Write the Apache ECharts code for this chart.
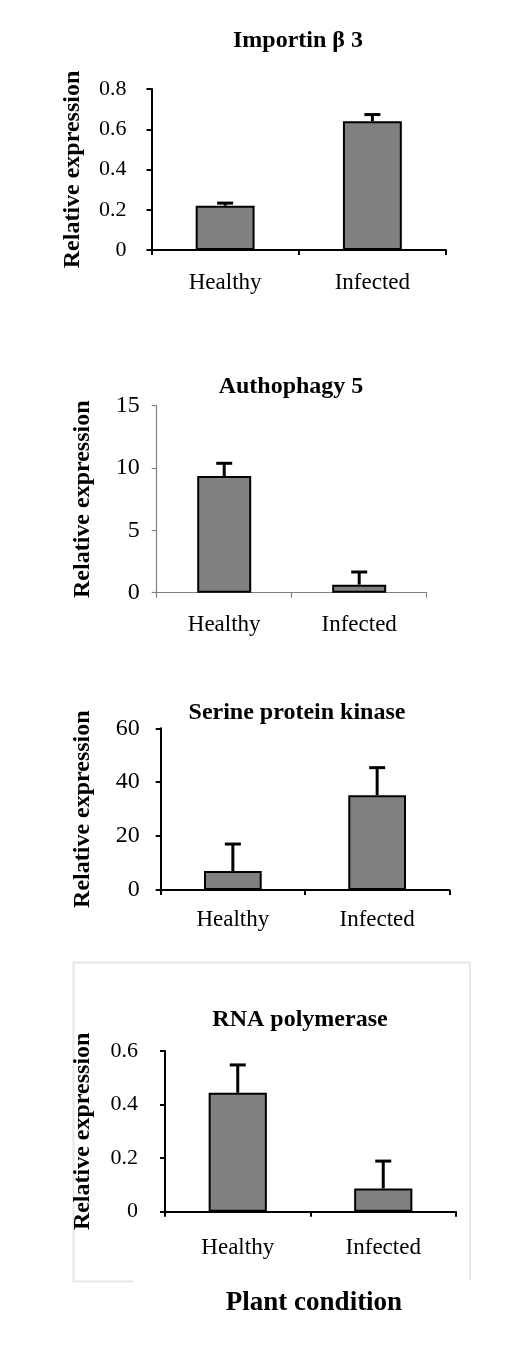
<!DOCTYPE html>
<html>
<head>
<meta charset="utf-8">
<script src="https://cdn.jsdelivr.net/npm/echarts@6/dist/echarts.min.js"></script>
<style>
html,body{margin:0;padding:0;background:#fff;}
#chart{width:511px;height:1346px;}
</style>
</head>
<body>
<div id="chart"></div>
<script>
var categories = ['Healthy', 'Infected'];

var importinValues = [0.22, 0.64];
var importinErrors = [0.013, 0.033];

var autophagyValues = [9.36, 0.64];
var autophagyErrors = [1.02, 1.02];

var serineValues = [7.05, 35.2];
var serineErrors = [10.0, 10.2];

var rnaValues = [0.444, 0.087];
var rnaErrors = [0.104, 0.102];

var titles = ['Importin \u03b2 3', 'Authophagy 5', 'Serine protein kinase', 'RNA polymerase'];
var yName = 'Relative expression';
var xName = 'Plant condition';

var yMins = [0, 0, 0, 0];
var yMaxs = [0.8, 15, 60, 0.6];
var yIntervals = [0.2, 5, 20, 0.2];

var FONT = '"Liberation Serif", "Times New Roman", serif';

var panels = [
  {values: importinValues, errors: importinErrors, grid: {left: 151.5, top: 89, width: 294.5, height: 161}, axisColor: '#000', axisWidth: 2, tickFont: 22, labelMargin: 25, catMargin: 21, nameGap: 67, title: [298, 41]},
  {values: autophagyValues, errors: autophagyErrors, grid: {left: 156.7, top: 405.7, width: 270, height: 187}, axisColor: '#808080', axisWidth: 1.2, tickFont: 24, labelMargin: 17, catMargin: 21, nameGap: 62, title: [291, 387]},
  {values: serineValues, errors: serineErrors, grid: {left: 160.7, top: 728.3, width: 288.6, height: 161.7}, axisColor: '#000', axisWidth: 2, tickFont: 24, labelMargin: 21, catMargin: 18, nameGap: 66, title: [297, 713]},
  {values: rnaValues, errors: rnaErrors, grid: {left: 165, top: 1051, width: 291, height: 160.7}, axisColor: '#000', axisWidth: 2, tickFont: 22, labelMargin: 27, catMargin: 25, nameGap: 70, title: [300, 1020]}
];

var grids = [], xAxes = [], yAxes = [], series = [], graphics = [];

panels.forEach(function (p, i) {
  grids.push({left: p.grid.left, top: p.grid.top, width: p.grid.width, height: p.grid.height, containLabel: false});
  xAxes.push({
    type: 'category', gridIndex: i, data: categories,
    axisLine: {lineStyle: {color: p.axisColor, width: p.axisWidth}},
    axisTick: {show: true, length: 5, inside: false, lineStyle: {color: p.axisColor, width: p.axisWidth}},
    axisLabel: {color: '#000', fontFamily: FONT, fontSize: 23, margin: p.catMargin},
    splitLine: {show: false}
  });
  yAxes.push({
    type: 'value', gridIndex: i, min: yMins[i], max: yMaxs[i], interval: yIntervals[i],
    name: yName, nameLocation: 'middle', nameGap: p.nameGap,
    nameTextStyle: {color: '#000', fontFamily: FONT, fontSize: 24, fontWeight: 'bold'},
    axisLine: {show: true, lineStyle: {color: p.axisColor, width: p.axisWidth}},
    axisTick: {show: true, length: 5, inside: false, lineStyle: {color: p.axisColor, width: p.axisWidth}},
    axisLabel: {color: '#000', fontFamily: FONT, fontSize: p.tickFont, margin: p.labelMargin},
    splitLine: {show: false}
  });
  series.push({
    type: 'bar', xAxisIndex: i, yAxisIndex: i, data: p.values, barWidth: '40%',
    itemStyle: {color: '#808080', borderColor: '#000', borderWidth: 2},
    z: 2
  });
  var errData = p.values.map(function (v, k) { return [k, v, v + p.errors[k]]; });
  series.push({
    type: 'custom', xAxisIndex: i, yAxisIndex: i, data: errData, z: 3,
    renderItem: function (params, api) {
      var x = api.value(0);
      var lo = api.coord([x, api.value(1)]);
      var hi = api.coord([x, api.value(2)]);
      var half = 8;
      return {
        type: 'group',
        children: [
          {type: 'line', shape: {x1: lo[0], y1: lo[1], x2: hi[0], y2: hi[1]}, style: {stroke: '#000', lineWidth: 3}},
          {type: 'line', shape: {x1: hi[0] - half, y1: hi[1], x2: hi[0] + half, y2: hi[1]}, style: {stroke: '#000', lineWidth: 3}}
        ]
      };
    }
  });
  graphics.push({
    type: 'text', x: p.title[0], y: p.title[1],
    style: {text: titles[i], fill: '#000', font: 'bold 24px ' + FONT, textAlign: 'center', textVerticalAlign: 'middle'}
  });
});

// light frame around the last panel
var frameColor = '#e6e6e6';
graphics.push({type: 'line', shape: {x1: 73, y1: 962.5, x2: 470, y2: 962.5}, style: {stroke: frameColor, lineWidth: 2}});
graphics.push({type: 'line', shape: {x1: 73.5, y1: 962, x2: 73.5, y2: 1282}, style: {stroke: frameColor, lineWidth: 2}});
graphics.push({type: 'line', shape: {x1: 470, y1: 962, x2: 470, y2: 1280}, style: {stroke: frameColor, lineWidth: 2}});
graphics.push({type: 'line', shape: {x1: 73, y1: 1281.5, x2: 133, y2: 1281.5}, style: {stroke: frameColor, lineWidth: 2}});

graphics.push({
  type: 'text', x: 314, y: 1303,
  style: {text: xName, fill: '#000', font: 'bold 27px ' + FONT, textAlign: 'center', textVerticalAlign: 'middle'}
});

var chart = echarts.init(document.getElementById('chart'), null, {renderer: 'canvas'});
chart.setOption({
  animation: false,
  backgroundColor: '#fff',
  grid: grids,
  xAxis: xAxes,
  yAxis: yAxes,
  series: series,
  graphic: graphics
});
</script>
</body>
</html>
